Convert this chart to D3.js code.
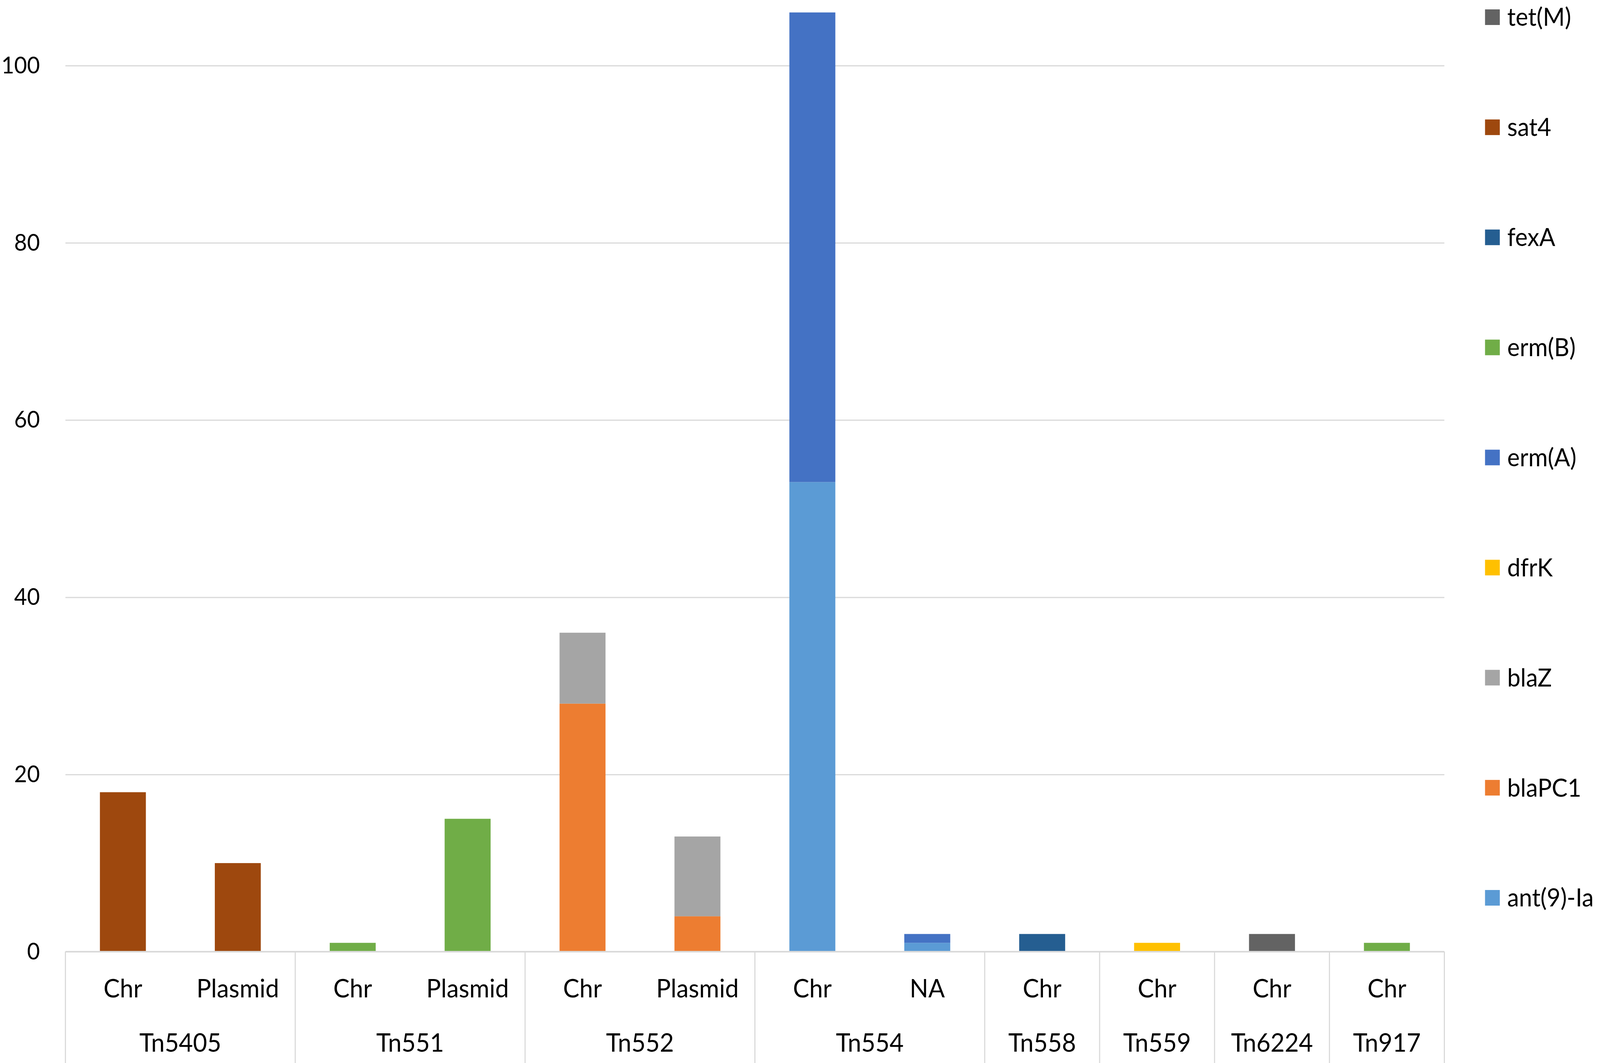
<!doctype html>
<html lang="en">
<head>
<meta charset="utf-8">
<title>Transposons by gene</title>
<style>
html, body {
	margin: 0;
	padding: 0;
	background: #fff;
	overflow: hidden;
	width: 100%;
	height: 100%;
}
svg {
	display: block;
	font-family: 'Lato', 'Open Sans', sans-serif;
}
svg text {
	fill: #000;
}
</style>
</head>
<body>
<div id="chart"></div>
<script src="https://cdnjs.cloudflare.com/ajax/libs/d3/7.8.5/d3.min.js"></script>
<script>
// transposon groups and where they sit (chromosome / plasmid)
var groups = ['Tn5405', 'Tn551', 'Tn552', 'Tn554', 'Tn558', 'Tn559', 'Tn6224', 'Tn917'];
var locations = [['Chr', 'Plasmid'], ['Chr', 'Plasmid'], ['Chr', 'Plasmid'], ['Chr', 'NA'],
	['Chr'], ['Chr'], ['Chr'], ['Chr']];

// genes, stacked bottom -> top
var genes = ['ant(9)-Ia', 'blaPC1', 'blaZ', 'dfrK', 'erm(A)', 'erm(B)', 'fexA', 'sat4', 'tet(M)'];
var geneColors = ['#5B9BD5', '#ED7D31', '#A5A5A5', '#FFC000', '#4472C4', '#70AD47', '#255E91', '#9E480E', '#636363'];

// one value per leaf category, same order as groups/locations
var ant9   = [0, 0, 0, 0, 0, 0, 53, 1, 0, 0, 0, 0];
var blaPC1 = [0, 0, 0, 0, 28, 4, 0, 0, 0, 0, 0, 0];
var blaZ   = [0, 0, 0, 0, 8, 9, 0, 0, 0, 0, 0, 0];
var dfrK   = [0, 0, 0, 0, 0, 0, 0, 0, 0, 1, 0, 0];
var ermA   = [0, 0, 0, 0, 0, 0, 53, 1, 0, 0, 0, 0];
var ermB   = [0, 0, 1, 15, 0, 0, 0, 0, 0, 0, 0, 1];
var fexA   = [0, 0, 0, 0, 0, 0, 0, 0, 2, 0, 0, 0];
var sat4   = [18, 10, 0, 0, 0, 0, 0, 0, 0, 0, 0, 0];
var tetM   = [0, 0, 0, 0, 0, 0, 0, 0, 0, 0, 2, 0];

var yTicks = [0, 20, 40, 60, 80, 100];

(function (d3) {
	'use strict';

	var W = 4328, H = 2722;
	var LEFT = 177, RIGHT = 3907, ZERO = 2437, TOP = 168;
	var GRID = '#d9d9d9';

	var seriesValues = [ant9, blaPC1, blaZ, dfrK, ermA, ermB, fexA, sat4, tetM];

	// flatten categories
	var cats = [];
	groups.forEach(function (g, gi) {
		locations[gi].forEach(function (loc) {
			cats.push({ id: g + '|' + loc, group: g, loc: loc });
		});
	});
	var rows = cats.map(function (c, i) {
		var r = { id: c.id };
		genes.forEach(function (k, s) { r[k] = seriesValues[s][i]; });
		return r;
	});

	var x = d3.scaleBand()
		.domain(cats.map(function (c) { return c.id; }))
		.range([LEFT, RIGHT])
		.paddingInner(0.6)
		.paddingOuter(0.3);

	var y = d3.scaleLinear().domain([0, 100]).range([ZERO, TOP]);

	var color = d3.scaleOrdinal().domain(genes).range(geneColors);

	// drawn in a fixed 4328x2722 space, fitted to whatever the window is
	var svg = d3.select('#chart').append('svg')
		.attr('width', window.innerWidth || W)
		.attr('height', window.innerHeight || H)
		.attr('viewBox', '0 0 ' + W + ' ' + H)
		.attr('preserveAspectRatio', 'none');

	svg.append('rect').attr('width', W).attr('height', H).attr('fill', '#fff');

	// gridlines
	svg.append('g')
		.attr('transform', 'translate(' + LEFT + ',0)')
		.call(d3.axisRight(y).tickValues(yTicks).tickSize(RIGHT - LEFT).tickFormat(''))
		.call(function (g) {
			g.select('.domain').remove();
			g.selectAll('line').attr('stroke', GRID).attr('stroke-width', 3);
		});

	// y labels
	svg.append('g')
		.attr('transform', 'translate(' + (LEFT - 69) + ',0)')
		.call(d3.axisLeft(y).tickValues(yTicks).tickSize(0).tickPadding(0))
		.call(function (g) {
			g.select('.domain').remove();
			g.selectAll('text')
				.attr('font-size', 60)
				.attr('font-family', 'Lato')
				.attr('fill', '#000');
		});

	// stacked bars
	var stack = d3.stack().keys(genes)(rows);
	svg.append('g')
		.selectAll('g')
		.data(stack)
		.join('g')
		.attr('fill', function (d) { return color(d.key); })
		.selectAll('rect')
		.data(function (d) { return d.filter(function (p) { return p[1] > p[0]; }); })
		.join('rect')
		.attr('x', function (d) { return x(d.data.id); })
		.attr('width', x.bandwidth())
		.attr('y', function (d) { return y(d[1]); })
		.attr('height', function (d) { return y(d[0]) - y(d[1]); });

	// category axis: baseline, group separators, labels
	var ax = svg.append('g');
	ax.append('line')
		.attr('x1', LEFT).attr('x2', RIGHT)
		.attr('y1', y(0)).attr('y2', y(0))
		.attr('stroke', GRID).attr('stroke-width', 4);

	var step = x.step();
	var bounds = [LEFT];
	var groupSpans = groups.map(function (g, gi) {
		var ids = locations[gi].map(function (loc) { return g + '|' + loc; });
		var x0 = x(ids[0]) - x.paddingOuter() * step;
		var x1 = x0 + ids.length * step;
		bounds.push(x1);
		return { name: g, cx: (x0 + x1) / 2 };
	});

	ax.selectAll('.sep')
		.data(bounds)
		.join('line')
		.attr('class', 'sep')
		.attr('x1', function (d) { return d; })
		.attr('x2', function (d) { return d; })
		.attr('y1', y(0))
		.attr('y2', H)
		.attr('stroke', GRID)
		.attr('stroke-width', 3);

	ax.selectAll('.loc')
		.data(cats)
		.join('text')
		.attr('class', 'loc')
		.attr('x', function (d) { return x(d.id) + x.bandwidth() / 2; })
		.attr('y', 2531)
		.attr('dy', '0.35em')
		.attr('text-anchor', 'middle')
		.attr('font-size', 66)
		.text(function (d) { return d.loc; });

	ax.selectAll('.grp')
		.data(groupSpans)
		.join('text')
		.attr('class', 'grp')
		.attr('x', function (d) { return d.cx; })
		.attr('y', 2670)
		.attr('dy', '0.35em')
		.attr('text-anchor', 'middle')
		.attr('font-size', 66)
		.text(function (d) { return d.name; });

	// legend, top to bottom in reverse stack order
	var legendKeys = genes.slice().reverse();
	var ly = d3.scalePoint().domain(legendKeys).range([44, 2299]);
	var leg = svg.append('g')
		.selectAll('g')
		.data(legendKeys)
		.join('g')
		.attr('transform', function (d) { return 'translate(4017,' + ly(d) + ')'; });
	leg.append('rect')
		.attr('x', 0).attr('y', -20)
		.attr('width', 40).attr('height', 40)
		.attr('fill', function (d) { return color(d); });
	leg.append('text')
		.attr('x', 60)
		.attr('dy', '0.35em')
		.attr('font-size', 64)
		.text(function (d) { return d; });

})(window.d3);
</script>
</body>
</html>
